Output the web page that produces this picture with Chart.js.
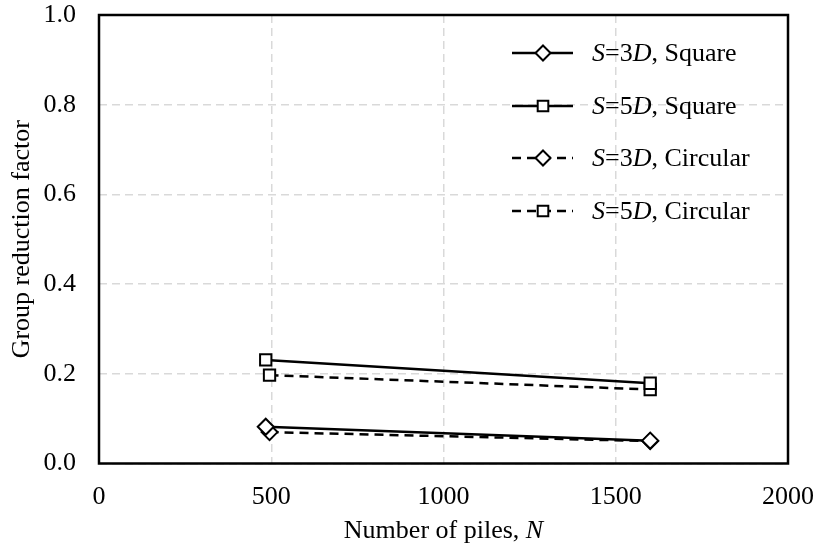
<!DOCTYPE html>
<html>
<head>
<meta charset="utf-8">
<script src="https://cdn.jsdelivr.net/npm/chart.js@4.4.1/dist/chart.umd.min.js"></script>
<style>
  html, body { margin: 0; padding: 0; background: #fff; }
  #wrap { width: 818px; height: 550px; }
</style>
</head>
<body>
<div id="wrap"><canvas id="c" width="818" height="550"></canvas></div>
<script>
// Pile counts per group layout
const squareN = [484, 1600];
const circularN = [495, 1600];

// Group reduction factor for each spacing / layout
const s3Square = [0.082, 0.051];
const s5Square = [0.231, 0.179];
const s3Circular = [0.070, 0.050];
const s5Circular = [0.197, 0.165];

// Axis ticks
const xTicks = [0, 500, 1000, 1500, 2000];
const yTicks = [0.0, 0.2, 0.4, 0.6, 0.8, 1.0];

// Legend labels: italic runs marked with i
const legendLabels = [
  [{t: 'S', i: true}, {t: '=3'}, {t: 'D', i: true}, {t: ', Square'}],
  [{t: 'S', i: true}, {t: '=5'}, {t: 'D', i: true}, {t: ', Square'}],
  [{t: 'S', i: true}, {t: '=3'}, {t: 'D', i: true}, {t: ', Circular'}],
  [{t: 'S', i: true}, {t: '=5'}, {t: 'D', i: true}, {t: ', Circular'}]
];
const xTitle = [{t: 'Number of piles, '}, {t: 'N', i: true}];
const yTitle = 'Group reduction factor';

const FONT = '"Liberation Serif", "Times New Roman", serif';
const FS = 26;
const LINE_DASH = [9, 6];
const GRID_DASH = [8, 5];

function pts(xs, ys) { return xs.map((x, k) => ({x: x, y: ys[k]})); }

function series(data, dashed, marker) {
  return {
    data: data,
    showLine: true,
    borderColor: '#000',
    borderWidth: 2.5,
    borderDash: dashed ? LINE_DASH : [],
    pointStyle: marker,
    pointRadius: 8,
    pointHoverRadius: 8,
    pointBackgroundColor: '#fff',
    pointBorderColor: '#000',
    pointBorderWidth: 2,
    fill: false
  };
}

const datasets = [
  series(pts(squareN, s3Square), false, 'rectRot'),
  series(pts(squareN, s5Square), false, 'rect'),
  series(pts(circularN, s3Circular), true, 'rectRot'),
  series(pts(circularN, s5Circular), true, 'rect')
];

function richWidth(ctx, parts, size) {
  let w = 0;
  parts.forEach(p => {
    ctx.font = (p.i ? 'italic ' : '') + size + 'px ' + FONT;
    w += ctx.measureText(p.t).width;
  });
  return w;
}

function drawRich(ctx, parts, x, y, size) {
  let cx = x;
  parts.forEach(p => {
    ctx.font = (p.i ? 'italic ' : '') + size + 'px ' + FONT;
    ctx.fillText(p.t, cx, y);
    cx += ctx.measureText(p.t).width;
  });
}

function drawMarker(ctx, style, x, y, r) {
  ctx.save();
  ctx.setLineDash([]);
  ctx.lineWidth = 2;
  ctx.strokeStyle = '#000';
  ctx.fillStyle = '#fff';
  ctx.beginPath();
  if (style === 'rectRot') {
    ctx.moveTo(x, y - r);
    ctx.lineTo(x + r, y);
    ctx.lineTo(x, y + r);
    ctx.lineTo(x - r, y);
    ctx.closePath();
  } else {
    const h = r * Math.SQRT1_2;
    ctx.rect(x - h, y - h, 2 * h, 2 * h);
  }
  ctx.fill();
  ctx.stroke();
  ctx.restore();
}

const framePlugin = {
  id: 'frame',
  beforeDatasetsDraw(chart) {
    const {ctx, chartArea: a} = chart;
    ctx.save();
    ctx.strokeStyle = '#000';
    ctx.lineWidth = 2.5;
    ctx.setLineDash([]);
    ctx.strokeRect(a.left, a.top, a.right - a.left, a.bottom - a.top);
    ctx.restore();
  },
  afterDraw(chart) {
    const {ctx, chartArea: a} = chart;
    ctx.save();
    ctx.fillStyle = '#000';
    ctx.textBaseline = 'middle';

    // x-axis title, centred under the plot
    const w = richWidth(ctx, xTitle, FS);
    drawRich(ctx, xTitle, (a.left + a.right) / 2 - w / 2, 531, FS);

    // y-axis title, rotated
    ctx.save();
    ctx.translate(22, (a.top + a.bottom) / 2);
    ctx.rotate(-Math.PI / 2);
    ctx.textAlign = 'center';
    ctx.font = FS + 'px ' + FONT;
    ctx.fillText(yTitle, 0, 0);
    ctx.restore();

    // legend
    const rows = [53, 106, 158, 211];
    const x0 = 512, x1 = 573, xm = 543, xt = 592;
    chart.data.datasets.forEach((ds, k) => {
      const y = rows[k];
      ctx.save();
      ctx.strokeStyle = '#000';
      ctx.lineWidth = 2.5;
      ctx.setLineDash(ds.borderDash || []);
      ctx.beginPath();
      ctx.moveTo(x0, y);
      ctx.lineTo(x1, y);
      ctx.stroke();
      ctx.restore();
      drawMarker(ctx, ds.pointStyle, xm, y, 7.5);
      ctx.textAlign = 'left';
      drawRich(ctx, legendLabels[k], xt, y + 1, FS);
    });
    ctx.restore();
  }
};

new Chart(document.getElementById('c'), {
  type: 'scatter',
  data: {datasets: datasets},
  options: {
    responsive: false,
    animation: false,
    events: [],
    layout: {padding: {top: 15, right: 30, left: 0, bottom: 0}},
    plugins: {legend: {display: false}, tooltip: {enabled: false}},
    scales: {
      x: {
        type: 'linear',
        min: xTicks[0],
        max: xTicks[xTicks.length - 1],
        afterBuildTicks(scale) { scale.ticks = xTicks.map(v => ({value: v})); },
        afterFit(scale) {
          scale.height = 86.5;
          scale.paddingLeft = 0;
          scale.paddingRight = 0;
        },
        ticks: {
          color: '#000',
          font: {family: FONT, size: FS},
          padding: 18,
          maxRotation: 0,
          callback: v => String(v)
        },
        grid: {color: '#d9d9d9', lineWidth: 1.5, drawTicks: false},
        border: {display: false, dash: GRID_DASH}
      },
      y: {
        type: 'linear',
        min: yTicks[0],
        max: yTicks[yTicks.length - 1],
        afterBuildTicks(scale) { scale.ticks = yTicks.map(v => ({value: v})); },
        afterFit(scale) {
          scale.width = 99;
          scale.paddingTop = 0;
          scale.paddingBottom = 0;
        },
        ticks: {
          color: '#000',
          font: {family: FONT, size: FS},
          padding: 23,
          callback: v => Number(v).toFixed(1)
        },
        grid: {color: '#d9d9d9', lineWidth: 1.5, drawTicks: false},
        border: {display: false, dash: GRID_DASH}
      }
    }
  },
  plugins: [framePlugin]
});
</script>
</body>
</html>
